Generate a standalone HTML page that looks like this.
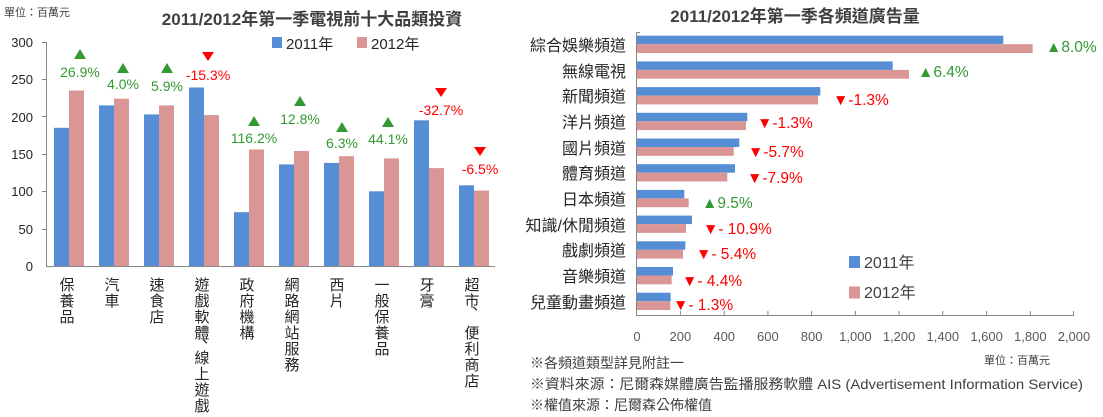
<!DOCTYPE html>
<html><head><meta charset="utf-8"><style>
html,body{margin:0;padding:0;background:#fff;}
svg{display:block;font-family:"Liberation Sans","Noto Sans CJK TC",sans-serif;}
</style></head><body>
<svg width="1103" height="417" viewBox="0 0 1103 417" xmlns="http://www.w3.org/2000/svg">
<!-- LEFT CHART -->
<text x="4" y="16" font-size="11" fill="#404040">單位：百萬元</text>
<text x="312" y="25" font-size="17" font-weight="bold" fill="#404040" text-anchor="middle">2011/2012年第一季電視前十大品類投資</text>
<rect x="272" y="37" width="10" height="11" fill="#558ED5"/>
<text x="286" y="49" font-size="15" fill="#262626">2011年</text>
<rect x="357" y="37" width="10" height="11" fill="#D99694"/>
<text x="371" y="49" font-size="15" fill="#262626">2012年</text>
<g font-size="13" fill="#262626" text-anchor="end">
<text x="33" y="47">300</text><text x="33" y="84">250</text><text x="33" y="122">200</text>
<text x="33" y="159">150</text><text x="33" y="196">100</text><text x="33" y="234">50</text><text x="33" y="271">0</text>
</g>
<g stroke="#868686" stroke-width="1">
<line x1="46.5" y1="42" x2="46.5" y2="266"/>
<line x1="46" y1="266.5" x2="495" y2="266.5"/>
<line x1="42" y1="42.5" x2="46" y2="42.5"/><line x1="42" y1="79.5" x2="46" y2="79.5"/>
<line x1="42" y1="116.5" x2="46" y2="116.5"/><line x1="42" y1="154.5" x2="46" y2="154.5"/>
<line x1="42" y1="191.5" x2="46" y2="191.5"/><line x1="42" y1="229.5" x2="46" y2="229.5"/>
</g>
<g fill="#558ED5">
<rect x="54" y="127.8" width="15" height="138.2"/>
<rect x="99" y="105.4" width="15" height="160.6"/>
<rect x="144" y="114.4" width="15" height="151.6"/>
<rect x="189" y="87.5" width="15" height="178.5"/>
<rect x="234" y="212.2" width="15" height="53.8"/>
<rect x="279" y="164.4" width="15" height="101.6"/>
<rect x="324" y="162.9" width="15" height="103.1"/>
<rect x="369" y="191.3" width="15" height="74.7"/>
<rect x="414" y="120.3" width="15" height="145.7"/>
<rect x="459" y="185.3" width="15" height="80.7"/>
</g>
<g fill="#D99694">
<rect x="69" y="90.5" width="15" height="175.5"/>
<rect x="114" y="98.7" width="15" height="167.3"/>
<rect x="159" y="105.4" width="15" height="160.6"/>
<rect x="204" y="115.1" width="15" height="150.9"/>
<rect x="249" y="149.5" width="15" height="116.5"/>
<rect x="294" y="151" width="15" height="115"/>
<rect x="339" y="156.2" width="15" height="109.8"/>
<rect x="384" y="158.4" width="15" height="107.6"/>
<rect x="429" y="168.1" width="15" height="97.9"/>
<rect x="474" y="190.6" width="15" height="75.4"/>
</g>
<g font-size="14" text-anchor="middle">
<polygon points="74,59 86,59 80,49" fill="#339933"/><text x="80" y="77" fill="#339933">26.9%</text>
<polygon points="117,73 129,73 123,63" fill="#339933"/><text x="123" y="89" fill="#339933">4.0%</text>
<polygon points="161,73 173,73 167,63" fill="#339933"/><text x="167" y="91" fill="#339933">5.9%</text>
<polygon points="202,52 214,52 208,61" fill="#FF0000"/><text x="208" y="80" fill="#FF0000">-15.3%</text>
<polygon points="248,126 260,126 254,116" fill="#339933"/><text x="254" y="143" fill="#339933">116.2%</text>
<polygon points="294,106 306,106 300,96" fill="#339933"/><text x="300" y="124" fill="#339933">12.8%</text>
<polygon points="336,132 348,132 342,122" fill="#339933"/><text x="342" y="148" fill="#339933">6.3%</text>
<polygon points="382,127 394,127 388,117" fill="#339933"/><text x="388" y="144" fill="#339933">44.1%</text>
<polygon points="435,88 447,88 441,97" fill="#FF0000"/><text x="441" y="115" fill="#FF0000">-32.7%</text>
<polygon points="474,147 486,147 480,156" fill="#FF0000"/><text x="480" y="174" fill="#FF0000">-6.5%</text>
</g>
<g font-size="15" fill="#262626" text-anchor="middle">
<text x="67" y="290">保<tspan x="67" dy="16">養</tspan><tspan x="67" dy="16">品</tspan></text>
<text x="112" y="290">汽<tspan x="112" dy="16">車</tspan></text>
<text x="157" y="290">速<tspan x="157" dy="16">食</tspan><tspan x="157" dy="16">店</tspan></text>
<text x="202" y="290">遊<tspan x="202" dy="16">戲</tspan><tspan x="202" dy="16">軟</tspan><tspan x="202" dy="16">體</tspan><tspan x="205" dy="9">、</tspan><tspan x="202" dy="16">線</tspan><tspan x="202" dy="16">上</tspan><tspan x="202" dy="16">遊</tspan><tspan x="202" dy="16">戲</tspan></text>
<text x="247" y="290">政<tspan x="247" dy="16">府</tspan><tspan x="247" dy="16">機</tspan><tspan x="247" dy="16">構</tspan></text>
<text x="292" y="290">網<tspan x="292" dy="16">路</tspan><tspan x="292" dy="16">網</tspan><tspan x="292" dy="16">站</tspan><tspan x="292" dy="16">服</tspan><tspan x="292" dy="16">務</tspan></text>
<text x="337" y="290">西<tspan x="337" dy="16">片</tspan></text>
<text x="382" y="290">一<tspan x="382" dy="16">般</tspan><tspan x="382" dy="16">保</tspan><tspan x="382" dy="16">養</tspan><tspan x="382" dy="16">品</tspan></text>
<text x="427" y="290">牙<tspan x="427" dy="16">膏</tspan></text>
<text x="472" y="290">超<tspan x="472" dy="16">市</tspan><tspan x="475" dy="8">、</tspan><tspan x="472" dy="24">便</tspan><tspan x="472" dy="16">利</tspan><tspan x="472" dy="16">商</tspan><tspan x="472" dy="16">店</tspan></text>
</g>

<!-- RIGHT CHART -->
<text x="795" y="22" font-size="17" font-weight="bold" fill="#404040" text-anchor="middle">2011/2012年第一季各頻道廣告量</text>
<g fill="#558ED5">
<rect x="636.7" y="35.7" width="366.6" height="8.5"/>
<rect x="636.7" y="61.4" width="256" height="8.5"/>
<rect x="636.7" y="87.1" width="183.6" height="8.5"/>
<rect x="636.7" y="112.8" width="110.6" height="8.5"/>
<rect x="636.7" y="138.5" width="102.6" height="8.5"/>
<rect x="636.7" y="164.2" width="98.3" height="8.5"/>
<rect x="636.7" y="189.9" width="47.6" height="8.5"/>
<rect x="636.7" y="215.6" width="55.3" height="8.5"/>
<rect x="636.7" y="241.3" width="48.6" height="8.5"/>
<rect x="636.7" y="267" width="36.3" height="8.5"/>
<rect x="636.7" y="292.7" width="34" height="8.5"/>
</g>
<g fill="#D99694">
<rect x="636.7" y="44.2" width="396" height="8.8"/>
<rect x="636.7" y="69.9" width="272.3" height="8.8"/>
<rect x="636.7" y="95.6" width="181.3" height="8.8"/>
<rect x="636.7" y="121.3" width="109.3" height="8.8"/>
<rect x="636.7" y="147" width="97" height="8.8"/>
<rect x="636.7" y="172.7" width="90.6" height="8.8"/>
<rect x="636.7" y="198.4" width="52" height="8.8"/>
<rect x="636.7" y="224.1" width="49.3" height="8.8"/>
<rect x="636.7" y="249.8" width="46.3" height="8.8"/>
<rect x="636.7" y="275.5" width="35" height="8.8"/>
<rect x="636.7" y="301.2" width="33.6" height="8.8"/>
</g>
<g stroke="#868686" stroke-width="1">
<line x1="636.5" y1="32" x2="636.5" y2="315"/>
<line x1="636" y1="315.5" x2="1074" y2="315.5"/>
<line x1="636.5" y1="32.5" x2="640" y2="32.5"/>
<line x1="680.4" y1="311" x2="680.4" y2="315"/><line x1="724.2" y1="311" x2="724.2" y2="315"/>
<line x1="767.9" y1="311" x2="767.9" y2="315"/><line x1="811.6" y1="311" x2="811.6" y2="315"/>
<line x1="855.4" y1="311" x2="855.4" y2="315"/><line x1="899.1" y1="311" x2="899.1" y2="315"/>
<line x1="942.8" y1="311" x2="942.8" y2="315"/><line x1="986.6" y1="311" x2="986.6" y2="315"/>
<line x1="1030.3" y1="311" x2="1030.3" y2="315"/><line x1="1073.5" y1="311" x2="1073.5" y2="315"/>
</g>
<g font-size="16" fill="#262626" text-anchor="end">
<text x="626" y="51">綜合娛樂頻道</text>
<text x="626" y="77">無線電視</text>
<text x="626" y="102">新聞頻道</text>
<text x="626" y="128">洋片頻道</text>
<text x="626" y="154">國片頻道</text>
<text x="626" y="179">體育頻道</text>
<text x="626" y="205">日本頻道</text>
<text x="626" y="231">知識/休閒頻道</text>
<text x="626" y="256">戲劇頻道</text>
<text x="626" y="282">音樂頻道</text>
<text x="626" y="308">兒童動畫頻道</text>
</g>
<g font-size="15.5">
<text x="1046" y="52" fill="#339933">▲8.0%</text>
<text x="918" y="77" fill="#339933">▲6.4%</text>
<text x="833" y="105" fill="#FF0000">▼-1.3%</text>
<text x="757" y="128" fill="#FF0000">▼-1.3%</text>
<text x="748" y="157" fill="#FF0000">▼-5.7%</text>
<text x="747" y="183" fill="#FF0000">▼-7.9%</text>
<text x="702" y="208" fill="#339933">▲9.5%</text>
<text x="703" y="234" fill="#FF0000">▼- 10.9%</text>
<text x="696" y="259" fill="#FF0000">▼- 5.4%</text>
<text x="682" y="286" fill="#FF0000">▼- 4.4%</text>
<text x="673" y="310" fill="#FF0000">▼- 1.3%</text>
</g>
<rect x="849" y="256" width="11" height="12" fill="#558ED5"/>
<text x="864" y="268" font-size="16" fill="#404040">2011年</text>
<rect x="849" y="286.5" width="11" height="12" fill="#D99694"/>
<text x="864" y="298" font-size="16" fill="#404040">2012年</text>
<g font-size="13" fill="#595959" text-anchor="middle">
<text x="637" y="341">0</text><text x="680.4" y="341">200</text><text x="724.2" y="341">400</text>
<text x="767.9" y="341">600</text><text x="811.6" y="341">800</text><text x="855.4" y="341">1,000</text>
<text x="899.1" y="341">1,200</text><text x="942.8" y="341">1,400</text><text x="986.6" y="341">1,600</text>
<text x="1030.3" y="341">1,800</text><text x="1074" y="341">2,000</text>
</g>
<text x="1050" y="364" font-size="11" fill="#404040" text-anchor="end">單位：百萬元</text>
<g font-size="14" fill="#404040">
<text x="530" y="368">※各頻道類型詳見附註一</text>
<text x="530" y="389" textLength="553" lengthAdjust="spacingAndGlyphs">※資料來源：尼爾森媒體廣告監播服務軟體 AIS (Advertisement Information Service)</text>
<text x="530" y="410">※權值來源：尼爾森公佈權值</text>
</g>
</svg>
</body></html>
